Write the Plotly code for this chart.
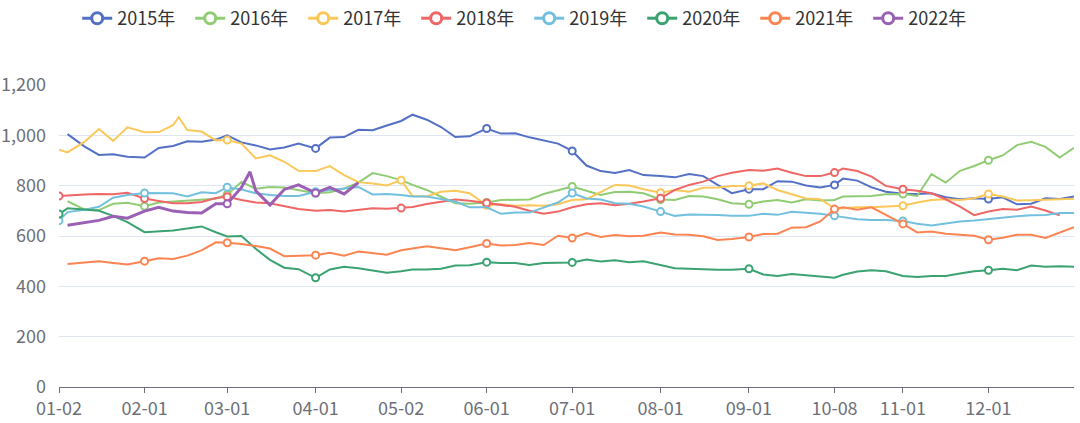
import pandas as pd
import plotly.graph_objects as go

# category axis: every calendar day that was a trading day in at least one year
all_days = pd.date_range("2020-01-02", "2020-12-31").strftime("%m-%d")
categories = [d for d in all_days if d != "05-01" and not ("10-01" <= d <= "10-07")]
tick_labels = ["01-02", "02-01", "03-01", "04-01", "05-02", "06-01",
               "07-01", "08-01", "09-01", "10-08", "11-01", "12-01"]

dates = ["01-02", "01-05", "01-11", "01-16", "01-21", "01-26",
         "02-01", "02-06", "02-11", "02-13", "02-16", "02-21", "02-26",
         "03-01", "03-06", "03-09", "03-11", "03-16", "03-21", "03-26",
         "04-01", "04-06", "04-11", "04-16", "04-21", "04-26",
         "05-02", "05-06", "05-11", "05-16", "05-21", "05-26",
         "06-01", "06-06", "06-11", "06-16", "06-21", "06-26",
         "07-01", "07-06", "07-11", "07-16", "07-21", "07-26",
         "08-01", "08-06", "08-11", "08-16", "08-21", "08-26",
         "09-01", "09-06", "09-11", "09-16", "09-21", "09-26",
         "10-08", "10-11", "10-16", "10-21", "10-26",
         "11-01", "11-06", "11-11", "11-16", "11-21", "11-26",
         "12-01", "12-06", "12-11", "12-16", "12-21", "12-26", "12-31"]

s2015 = [None, 1005, 955, 922, 925, 915,
         912, 950, 958, None, 976, 975, 983,
         1000, 972, None, 960, 944, 952, 967,
         948, 991, 993, 1022, 1020, 1039,
         1057, 1082, 1062, 1033, 993, 996,
         1027, 1007, 1008, 992, 978, 967,
         938, 880, 858, 850, 862, 842,
         838, 833, 846, 838, 803, 770,
         786, 786, 818, 816, 801, 793,
         803, 828, 820, 793, 776,
         768, 767, 770, 754, 746, 750,
         747, 754, 726, 728, 750, 747, 757]
s2016 = [None, 738, 705, 703, 728, 732,
         718, 733, 737, None, 739, 743, 748,
         765, 815, None, 788, 795, 793, 782,
         770, 774, 789, 812, 850, 838,
         822, 803, 783, 756, 730, 728,
         733, 743, 743, 745, 767, 782,
         797, 780, 763, 775, 776, 770,
         745, 743, 759, 757, 746, 730,
         726, 737, 743, 733, 746, 741,
         743, 757, 759, 759, 766,
         767, 759, 846, 812, 859, 878,
         901, 920, 961, 974, 954, 912, 950]
s2017 = [943, 932, 975, 1025, 978, 1032,
         1012, 1013, 1040, 1072, 1021, 1015, 980,
         981, 967, None, 908, 921, 895, 859,
         858, 878, 842, 814, 809, 801,
         822, 759, 757, 776, 780, 770,
         722, 726, 720, 722, 720, 726,
         743, 746, 776, 803, 801, 786,
         772, 783, 776, 792, 793, 799,
         800, 809, 783, 767, 749, 746,
         710, 710, 714, 714, 717,
         720, 733, 743, 746, 743, 750,
         767, 757, 741, 742, 745, 747, 748]
s2018 = [759, 760, 765, 767, 766, 772,
         749, 739, 730, None, 730, 735, 751,
         756, 743, None, 733, 730, 720, 707,
         700, 703, 697, 703, 710, 708,
         711, 715, 727, 735, 745, 740,
         731, 725, 716, 700, 688, 697,
         714, 726, 730, 722, 728, 737,
         750, 783, 803, 816, 838, 851,
         862, 859, 868, 851, 838, 838,
         852, 868, 858, 836, 799,
         786, 780, 770, 746, 717, 683,
         697, 707, 704, 717, 701, 682, None]
s2019 = [661, 695, 704, 716, 752, 763,
         771, 770, 770, None, 757, 774, 770,
         794, 785, None, 770, 763, 759, 759,
         776, 783, 789, 795, 765, 767,
         763, 757, 757, 747, 737, 714,
         714, 688, 693, 693, 714, 733,
         771, 749, 745, 730, 728, 717,
         697, 680, 685, 685, 683, 680,
         680, 688, 684, 696, 691, 688,
         680, 674, 667, 664, 664,
         660, 649, 642, 649, 658, 662,
         668, 674, 678, 682, 683, 691, 691]
s2020 = [687, 710, 705, 700, 680, 655,
         615, 618, 622, None, 630, 638, 615,
         598, 600, None, 549, 505, 474, 468,
         434, 467, 478, 472, 464, 454,
         460, 467, 467, 470, 483, 484,
         496, 493, 493, 485, 493, 493,
         495, 507, 499, 504, 496, 500,
         485, 472, 470, 467, 466, 466,
         470, 447, 441, 449, 445, 438,
         434, 446, 459, 464, 460,
         441, 437, 441, 441, 451, 460,
         464, 470, 464, 483, 478, 480, 478]
s2021 = [None, 489, 496, 500, 493, 487,
         500, 512, 509, None, 522, 543, 575,
         573, 568, None, 560, 550, 520, 522,
         524, 533, 522, 538, 533, 526,
         543, 551, 559, 551, 543, 555,
         570, 562, 564, 572, 564, 601,
         592, 612, 596, 604, 599, 601,
         614, 606, 605, 599, 584, 588,
         596, 608, 609, 633, 635, 658,
         707, 714, 704, 714, 684,
         648, 614, 618, 609, 605, 601,
         585, 593, 605, 605, 592, 614, 635]
s2022 = [None, 643, 654, 662, 678, 671,
         699, 714, 699, None, 693, 691, 728,
         728, 793, 855, 780, 723, 785, 803,
         771, 793, 767, 812] + [None] * 50

# month-start days that were trading days in each year get a symbol
mk2015 = ["04-01", "06-01", "07-01", "09-01", "10-08", "12-01"]
mk2016 = ["02-01", "03-01", "04-01", "06-01", "07-01", "08-01", "09-01", "11-01", "12-01"]
mk2017 = ["03-01", "05-02", "06-01", "08-01", "09-01", "11-01", "12-01"]
mk2018 = ["01-02", "02-01", "03-01", "05-02", "06-01", "08-01", "10-08", "11-01"]
mk2019 = ["01-02", "02-01", "03-01", "04-01", "07-01", "08-01", "10-08", "11-01"]
mk2020 = ["01-02", "04-01", "06-01", "07-01", "09-01", "12-01"]
mk2021 = ["02-01", "03-01", "04-01", "06-01", "07-01", "09-01", "10-08", "11-01", "12-01"]
mk2022 = ["03-01", "04-01"]

series = [
    ("2015年", s2015, mk2015, "#5470c6", 2),
    ("2016年", s2016, mk2016, "#91cc75", 2),
    ("2017年", s2017, mk2017, "#fac858", 2),
    ("2018年", s2018, mk2018, "#ee6666", 2),
    ("2019年", s2019, mk2019, "#73c0de", 2),
    ("2020年", s2020, mk2020, "#3ba272", 2),
    ("2021年", s2021, mk2021, "#fc8452", 2),
    ("2022年", s2022, mk2022, "#9a60b4", 3),
]

font = "Noto Sans CJK SC"
fig = go.Figure()
for name, vals, mk, color, width in series:
    fig.add_trace(go.Scatter(x=dates, y=vals, mode="lines", connectgaps=True,
                             line=dict(color=color, width=width),
                             legendgroup=name, showlegend=False, name=name))
    fig.add_trace(go.Scatter(x=mk, y=[vals[dates.index(d)] for d in mk], mode="markers",
                             marker=dict(symbol="circle", size=7, color="white",
                                         line=dict(color=color, width=2)),
                             legendgroup=name, showlegend=False, name=name))
    # legend entry: line with hollow circle
    fig.add_trace(go.Scatter(x=[None], y=[None], mode="lines+markers", name=name,
                             legendgroup=name,
                             line=dict(color=color, width=3),
                             marker=dict(symbol="circle", size=11, color="white",
                                         line=dict(color=color, width=3))))

fig.update_layout(
    width=1080, height=423,
    margin=dict(l=59, r=6, t=85, b=36, autoexpand=False),
    paper_bgcolor="white", plot_bgcolor="white",
    font=dict(family=font, size=16, color="#6e7079"),
    legend=dict(orientation="h", xref="container", yref="container",
                x=0.49, xanchor="center", y=1.0, yanchor="top",
                entrywidth=68, entrywidthmode="pixels",
                font=dict(family=font, size=18, color="#333"),
                itemclick=False, itemdoubleclick=False),
    xaxis=dict(type="category", categoryorder="array", categoryarray=categories,
               range=[0, len(categories) - 1],
               tickmode="array", tickvals=tick_labels, ticktext=tick_labels,
               showgrid=False, showline=True, linecolor="#6e7079", linewidth=1,
               ticks="outside", ticklen=5, tickcolor="#6e7079",
               tickfont=dict(size=18, color="#6e7079")),
    yaxis=dict(range=[0, 1200], dtick=200, tickformat=",", showline=False,
               zeroline=False, gridcolor="#e0e6f1", gridwidth=1,
               ticklabelstandoff=12, tickfont=dict(size=18, color="#6e7079")),
    showlegend=True,
)

# the page body has a default 8px margin; drop it so the chart sits at the window corner
fig.write_html("out.html", config={"displayModeBar": False},
               post_script="document.body.style.margin = '0';")
